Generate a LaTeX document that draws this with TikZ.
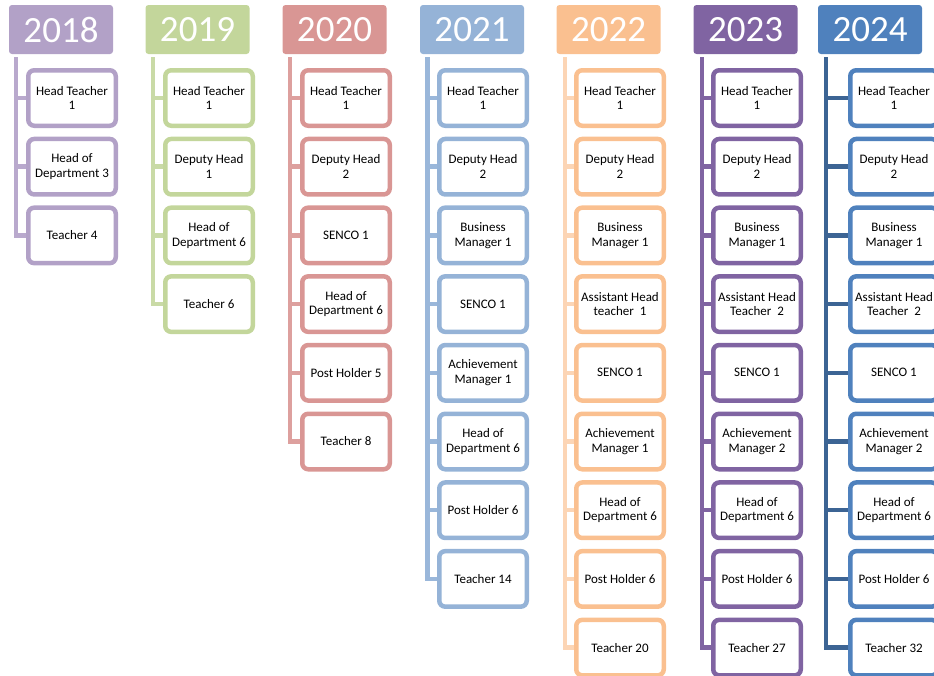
\documentclass[tikz,border=0pt]{standalone}
\usepackage{fontspec}
\setmainfont{Carlito}
\usetikzlibrary{backgrounds}
\definecolor{c18}{HTML}{B2A1C7}
\definecolor{c19}{HTML}{C3D69B}
\definecolor{c20}{HTML}{D99694}
\definecolor{c21}{HTML}{95B3D7}
\definecolor{c22}{HTML}{FAC090}
\definecolor{c23}{HTML}{8064A2}
\definecolor{c24}{HTML}{4F81BD}
\definecolor{l18}{HTML}{B9A9CD}
\definecolor{l19}{HTML}{C9DAA6}
\definecolor{l20}{HTML}{DDA09E}
\definecolor{l21}{HTML}{9AB7DA}
\definecolor{l22}{HTML}{FCD5B5}
\definecolor{l23}{HTML}{8064A2}
\definecolor{l24}{HTML}{3C6494}
\tikzset{
  yearbox/.style={fill=#1, rounded corners=3pt, minimum width=104pt, minimum height=49pt,
    inner sep=0pt, text=white, font=\fontsize{37}{37}\selectfont},
  rolebox/.style={draw=#1, line width=4.5pt, fill=white, rounded corners=6pt,
    minimum width=87.5pt, minimum height=55.5pt, inner sep=0pt, align=center,
    text=black, font=\fontsize{13}{14.5}\selectfont},
  link/.style={draw=#1, line width=4.5pt, line join=miter},
}
% #1 column index, #2 year, #3 box colour, #4 line colour, #5 header centre x, #6 line x, #7 roles
\newcommand\yearcol[7]{%
  \pgfmathsetmacro\bx{72+137*#1}%
  \node[yearbox=#3] (y#2) at (#5,29.5) {#2};
  \coordinate (t#2) at (#6,57);
  \foreach \r [count=\j from 0] in {#7} {
    \node[rolebox=#3] (r#2-\j) at (\bx,98+68.7*\j) {\r};
    \coordinate (s#2-\j) at (#6,98+68.7*\j);
    \xdef\lastj{\j}
  }
  \begin{scope}[on background layer]
    \pgfmathtruncatemacro\penult{\lastj-1}
    \foreach \j in {0,...,\penult} {
      \draw[link=#4] (s#2-\j) -- (r#2-\j.west);
    }
    \draw[link=#4] (t#2) -- (s#2-\lastj) -- (r#2-\lastj.west);
  \end{scope}
}
\begin{document}
\begin{tikzpicture}[x=1pt,y=-1pt]
\useasboundingbox (0,0) rectangle (934,675);
\clip (0,0) rectangle (934,675);
\yearcol{0}{2018}{c18}{l18}{61}{16}{{Head Teacher\\1},{Head of\\Department 3},{Teacher 4}}
\yearcol{1}{2019}{c19}{l19}{197.5}{153}{{Head Teacher\\1},{Deputy Head\\1},{Head of\\Department 6},{Teacher 6}}
\yearcol{2}{2020}{c20}{l20}{334.5}{290}{{Head Teacher\\1},{Deputy Head\\2},{SENCO 1},{Head of\\Department 6},{Post Holder 5},{Teacher 8}}
\yearcol{3}{2021}{c21}{l21}{472}{427.5}{{Head Teacher\\1},{Deputy Head\\2},{Business\\Manager 1},{SENCO 1},{Achievement\\Manager 1},{Head of\\Department 6},{Post Holder 6},{Teacher 14}}
\yearcol{4}{2022}{c22}{l22}{608.5}{565}{{Head Teacher\\1},{Deputy Head\\2},{Business\\Manager 1},{Assistant Head\\teacher\ \ 1},{SENCO 1},{Achievement\\Manager 1},{Head of\\Department 6},{Post Holder 6},{Teacher 20}}
\yearcol{5}{2023}{c23}{l23}{745.5}{702}{{Head Teacher\\1},{Deputy Head\\2},{Business\\Manager 1},{Assistant Head\\Teacher\ \ 2},{SENCO 1},{Achievement\\Manager 2},{Head of\\Department 6},{Post Holder 6},{Teacher 27}}
\yearcol{6}{2024}{c24}{l24}{870}{826}{{Head Teacher\\1},{Deputy Head\\2},{Business\\Manager 1},{Assistant Head\\Teacher\ \ 2},{SENCO 1},{Achievement\\Manager 2},{Head of\\Department 6},{Post Holder 6},{Teacher 32}}
\end{tikzpicture}
\end{document}
